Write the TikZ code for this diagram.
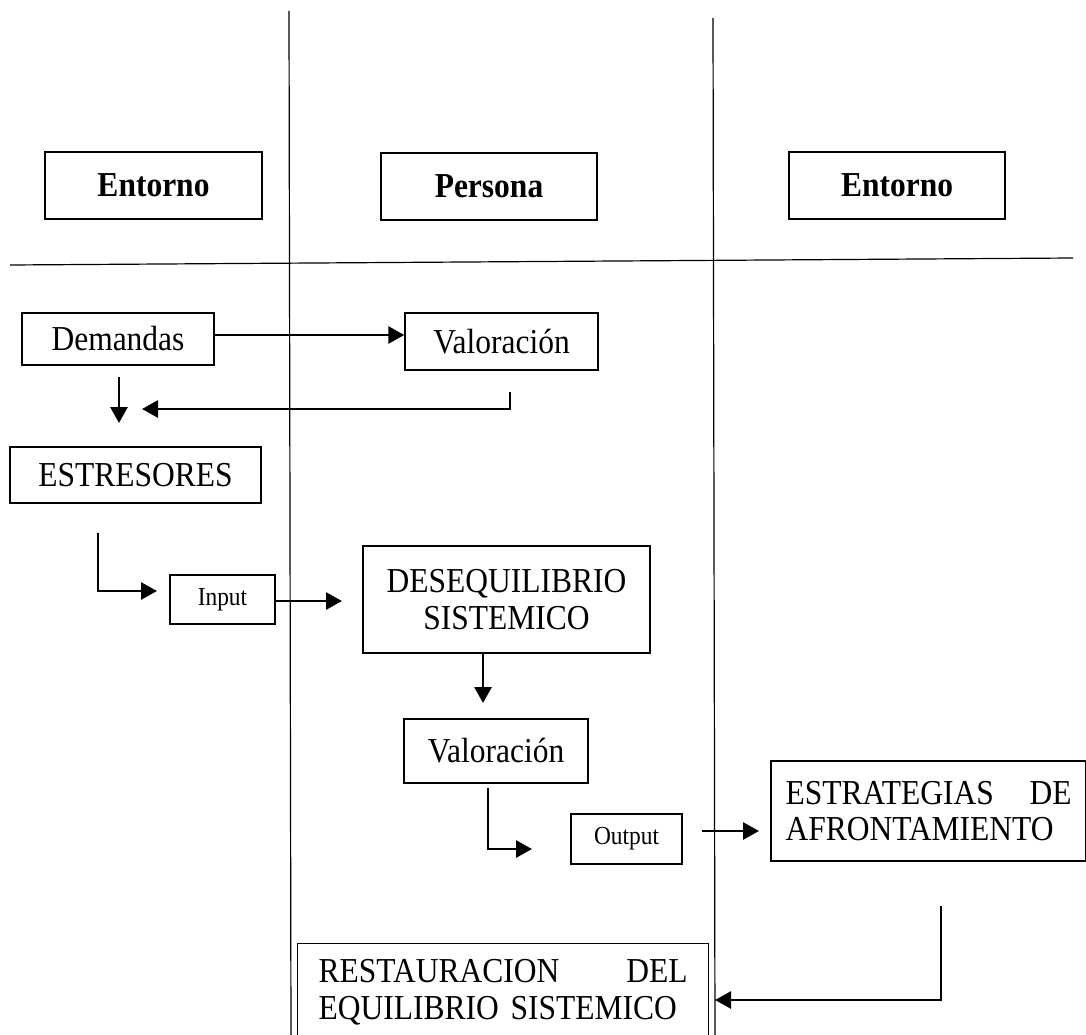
\documentclass[tikz,border=0pt]{standalone}
\usepackage{fontspec}
\setmainfont{Liberation Serif}[FakeStretch=0.9]
\usetikzlibrary{arrows.meta}
\tikzset{
  bx/.style={draw, line width=1.4pt, inner sep=0pt, align=center,
    font=\fontsize{35}{37}\selectfont},
  smallbx/.style={bx, font=\fontsize{26}{30}\selectfont},
  hdr/.style={bx, font=\fontsize{35}{37}\selectfont\bfseries},
  arr/.style={line width=2.8pt, -{Triangle[length=16pt,width=17pt]}},
  sep/.style={line width=1.2pt}
}
\begin{document}
\begin{tikzpicture}[x=1pt,y=-1pt]
\clip (0,0) rectangle (1086,1035);
\fill[white] (0,0) rectangle (1086,1035);
% separators
\coordinate (v1t) at (289,11); \coordinate (v1b) at (291,1040);
\coordinate (v2t) at (713,18); \coordinate (v2b) at (715,1040);
\coordinate (hl) at (10,265); \coordinate (hr) at (1073,258);
\draw[sep] (v1t) -- (v1b);
\draw[sep] (v2t) -- (v2b);
\draw[sep] (hl) -- (hr);
% header boxes
\node[hdr, minimum width=217, minimum height=67] (ent1) at (153.5,185.5) {Entorno};
\node[hdr, minimum width=216, minimum height=67] (pers) at (489,186.5) {Persona};
\node[hdr, minimum width=216, minimum height=67] (ent2) at (897,185.5) {Entorno};
% flow boxes
\node[bx, minimum width=192, minimum height=52] (dem) at (118,339) {Demandas};
\node[bx, minimum width=193, minimum height=57] (val1) at (501.5,341.5) {Valoración};
\node[bx, minimum width=251, minimum height=56] (est) at (135.5,475) {ESTRESORES};
\node[smallbx, minimum width=105, minimum height=49] (inp) at (222.5,599.5) {Input};
\node[bx, minimum width=287, minimum height=107] (deseq) at (506.5,599.5) {DESEQUILIBRIO\\SISTEMICO};
\node[bx, minimum width=184, minimum height=64] (val2) at (496,751) {Valoración};
\node[smallbx, minimum width=111, minimum height=50] (out) at (626.5,839) {Output};
\node[bx, align=left, text width=286, inner xsep=14.5, inner ysep=0pt, minimum height=100,
  font=\fontsize{35}{35.5}\selectfont] (estr) at (928.5,811)
  {ESTRATEGIAS\hfill DE\\AFRONTAMIENTO};
\node[bx, align=left, text width=369, inner xsep=21, inner ysep=16, anchor=north west] (rest) at (297,943)
  {RESTAURACION\hfill DEL\\EQUILIBRIO SISTEMICO};
% connector points
\coordinate (a2s) at (119,377); \coordinate (a2e) at (119,423);
\coordinate (a3s) at (510,392); \coordinate (a3c) at (510,409); \coordinate (a3e) at (142,409);
\coordinate (a4s) at (98,533); \coordinate (a4c) at (98,591); \coordinate (a4e) at (157,591);
\coordinate (a5e) at (342,601);
\coordinate (a6s) at (483,652); \coordinate (a6e) at (483,703);
\coordinate (a7s) at (488,788); \coordinate (a7c) at (488,849); \coordinate (a7e) at (532,849);
\coordinate (a8s) at (702,831); \coordinate (a8e) at (759,831);
\coordinate (a9s) at (941,906); \coordinate (a9c) at (941,1000); \coordinate (a9e) at (715,1000);
% arrows
\draw[arr] (dem.east |- 0,335) -- (val1.west |- 0,335);
\draw[arr] (a2s) -- (a2e);
\draw[arr] (a3s) -- (a3c) -- (a3e);
\draw[arr] (a4s) -- (a4c) -- (a4e);
\draw[arr] (inp.east |- 0,601) -- (a5e);
\draw[arr] (a6s) -- (a6e);
\draw[arr] (a7s) -- (a7c) -- (a7e);
\draw[arr] (a8s) -- (a8e);
\draw[arr] (a9s) -- (a9c) -- (a9e);
\end{tikzpicture}
\end{document}
